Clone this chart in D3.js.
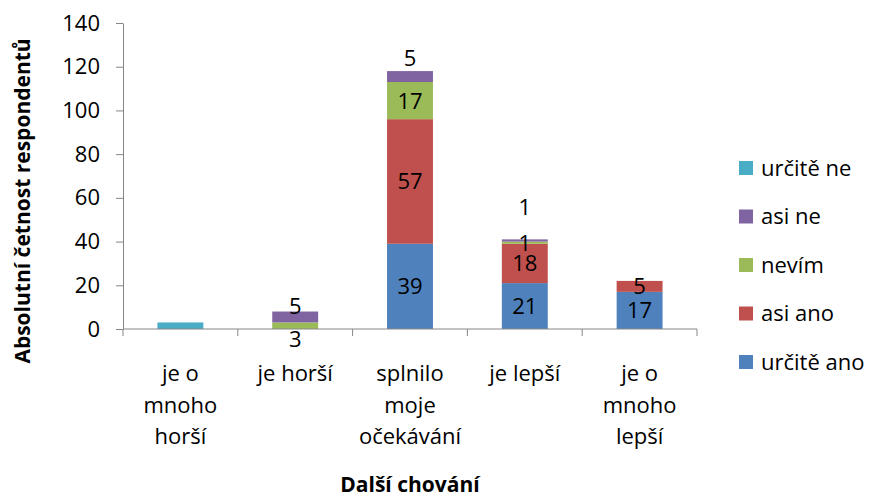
<!DOCTYPE html>
<meta charset="utf-8">
<style>
    body { margin: 0; background: #fff; }
    svg text { font-family: "Open Sans", sans-serif; fill: #000; }
    .axis path, .axis line { stroke: #868686; }
</style>
<svg width="872" height="499"></svg>
<script src="https://cdn.jsdelivr.net/npm/d3@7"></script>
<script>

    // data
    var categories = [["je o", "mnoho", "horší"], ["je horší"], ["splnilo", "moje", "očekávání"], ["je lepší"], ["je o", "mnoho", "lepší"]];
    var seriesNames = ["určitě ano", "asi ano", "nevím", "asi ne", "určitě ne"];
    var urciteAno = [0, 0, 39, 21, 17];
    var asiAno    = [0, 0, 57, 18, 5];
    var nevim     = [0, 3, 17, 1, 0];
    var asiNe     = [0, 5, 5, 1, 0];
    var urciteNe  = [3, 0, 0, 0, 0];
    var yTicks = [0, 20, 40, 60, 80, 100, 120, 140];

    var colors = ["#4F81BD", "#C0504D", "#9BBB59", "#8064A2", "#4BACC6"];

    // which data labels are shown, and how far they are nudged (px) from segment centre
    var labelNudge = {
        "nevím|1": 13, "asi ne|1": -11, "asi ne|2": -18, "asi ne|3": -33
    };
    var hideLabel = { "určitě ne|0": true };
    var fs = "22px";

    var svg = d3.select("svg"),
        margin = {top: 23, left: 123, right: 175, bottom: 170},
        width = 872 - margin.left - margin.right,
        height = 499 - margin.top - margin.bottom,
        g = svg.append("g").attr("transform", "translate(" + margin.left + "," + margin.top + ")");

    var values = [urciteAno, asiAno, nevim, asiNe, urciteNe];
    var table = categories.map(function(c, i) {
        var row = {i: i};
        seriesNames.forEach(function(s, k) { row[s] = values[k][i]; });
        return row;
    });
    var stacked = d3.stack().keys(seriesNames)(table);

    var x = d3.scaleBand()
        .domain(d3.range(categories.length))
        .range([0, width])
        .paddingInner(0.6)
        .paddingOuter(0.3);

    var y = d3.scaleLinear()
        .domain([0, 140])
        .range([height, 0]);

    // y axis
    var yAxis = g.append("g")
        .attr("class", "axis")
        .call(d3.axisLeft(y).tickValues(yTicks).tickSize(7).tickSizeOuter(0).tickPadding(16));
    yAxis.selectAll("text").style("font-size", fs).attr("font-family", null);

    // bars
    var layer = g.selectAll(".layer")
        .data(stacked)
        .enter().append("g")
        .attr("class", "layer")
        .attr("fill", function(d, k) { return colors[k]; });

    layer.selectAll("rect")
        .data(function(d) { return d; })
        .enter().append("rect")
        .attr("x", function(d, i) { return x(i); })
        .attr("width", x.bandwidth())
        .attr("y", function(d) { return y(d[1]); })
        .attr("height", function(d) { return y(d[0]) - y(d[1]); });

    // x axis line with ticks at category boundaries
    var xa = g.append("g").attr("class", "axis");
    xa.append("line")
        .attr("x1", 0).attr("x2", width)
        .attr("y1", height).attr("y2", height);
    xa.selectAll(".tick")
        .data(d3.range(categories.length + 1))
        .enter().append("line")
        .attr("x1", function(i) { return i * x.step(); })
        .attr("x2", function(i) { return i * x.step(); })
        .attr("y1", height).attr("y2", height + 7);

    // category labels
    g.selectAll(".cat")
        .data(categories)
        .enter().append("text")
        .attr("class", "cat")
        .attr("text-anchor", "middle")
        .style("font-size", fs)
        .attr("transform", function(d, i) { return "translate(" + (x(i) + x.bandwidth() / 2) + "," + (height + 52) + ")"; })
        .selectAll("tspan")
        .data(function(d) { return d; })
        .enter().append("tspan")
        .attr("x", 0)
        .attr("dy", function(d, j) { return j ? 31.5 : 0; })
        .text(function(d) { return d; });

    // data labels
    stacked.forEach(function(s) {
        s.forEach(function(d, i) {
            var v = d[1] - d[0], key = s.key + "|" + i;
            if (!v || hideLabel[key]) return;
            g.append("text")
                .attr("x", x(i) + x.bandwidth() / 2)
                .attr("y", y((d[0] + d[1]) / 2) + (labelNudge[key] || 0))
                .attr("dy", "0.36em")
                .attr("text-anchor", "middle")
                .style("font-size", fs)
                .text(v);
        });
    });

    // legend
    var legend = svg.append("g").attr("transform", "translate(739,168)");
    var items = legend.selectAll("g")
        .data(seriesNames.slice().reverse())
        .enter().append("g")
        .attr("transform", function(d, j) { return "translate(0," + j * 48.5 + ")"; });
    items.append("rect")
        .attr("y", -7).attr("width", 14).attr("height", 14)
        .attr("fill", function(d) { return colors[seriesNames.indexOf(d)]; });
    items.append("text")
        .attr("x", 22).attr("dy", "0.36em")
        .style("font-size", fs)
        .text(function(d) { return d; });

    // axis titles
    svg.append("text")
        .attr("transform", "translate(22,201) rotate(-90)")
        .attr("text-anchor", "middle")
        .attr("dy", "0.36em")
        .style("font-size", "21px")
        .style("font-weight", "bold")
        .text("Absolutní četnost respondentů");

    svg.append("text")
        .attr("x", margin.left + width / 2)
        .attr("y", 492)
        .attr("text-anchor", "middle")
        .style("font-size", "21px")
        .style("font-weight", "bold")
        .text("Další chování");

</script>
